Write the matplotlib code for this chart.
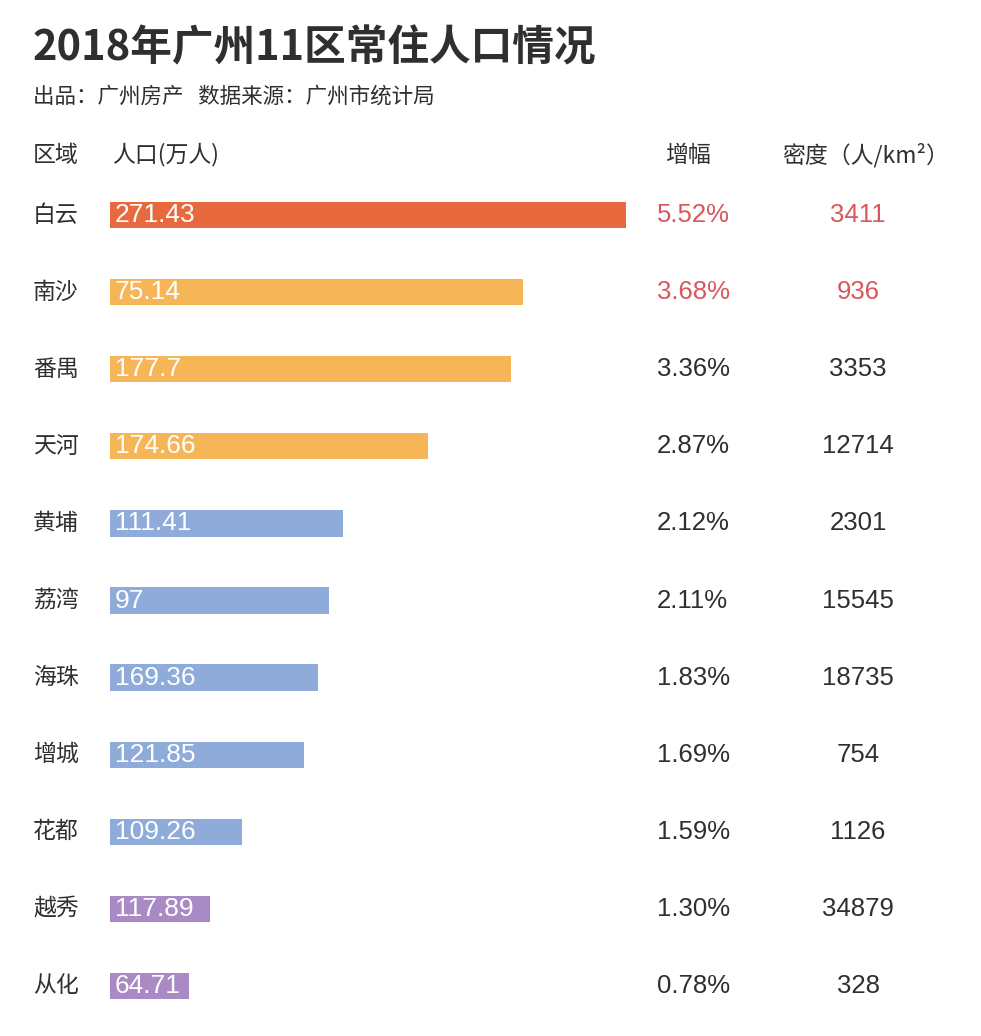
import matplotlib
matplotlib.use("Agg")
import matplotlib.pyplot as plt
import matplotlib.transforms as mtransforms


TITLE = "2018年广州11区常住人口情况"
SUBTITLE = "出品：广州房产   数据来源：广州市统计局"
HEADERS = ["区域", "人口(万人)", "增幅", "密度（人/km²）"]

districts = ["白云", "南沙", "番禺", "天河", "黄埔", "荔湾", "海珠", "增城", "花都", "越秀", "从化"]
population = ["271.43", "75.14", "177.7", "174.66", "111.41", "97", "169.36",
              "121.85", "109.26", "117.89", "64.71"]
growth = ["5.52%", "3.68%", "3.36%", "2.87%", "2.12%", "2.11%", "1.83%",
          "1.69%", "1.59%", "1.30%", "0.78%"]
density = ["3411", "936", "3353", "12714", "2301", "15545", "18735",
           "754", "1126", "34879", "328"]
# bar lengths as drawn in the picture (they do not follow population)
bar_length = [5.16, 4.13, 4.01, 3.18, 2.33, 2.19, 2.08, 1.94, 1.32, 1.00, 0.79]
bar_group = ["top", "high", "high", "high", "mid", "mid", "mid", "mid", "mid", "low", "low"]

GROUP_COLORS = {"top": "#E9693F", "high": "#F6B557", "mid": "#8EABDA", "low": "#A98AC4"}
HIGHLIGHT_ROWS = 2

CJK = ["Noto Sans CJK SC", "DejaVu Sans"]
NUM = ["Liberation Sans", "Noto Sans CJK SC"]
DARK = "#2f2f2f"
RED = "#D9575A"

W, H = 981, 1036


def main() -> None:
    fig = plt.figure(figsize=(W / 100, H / 100), dpi=100)
    fig.patch.set_facecolor("white")

    # bar area: rows from y=176 to y=1024 px, bars start at x=110 px
    top_px, bottom_px, left_px = 176.5, 1024.5, 110
    ax = fig.add_axes([left_px / W, 1 - bottom_px / H, 1 - left_px / W, (bottom_px - top_px) / H])
    ax.set_xlim(0, (W - left_px) / 100)
    ax.set_ylim(len(districts) - 0.5, -0.5)
    ax.axis("off")

    rows = list(range(len(districts)))
    ax.barh(rows, bar_length, height=0.34, left=0,
            color=[GROUP_COLORS[g] for g in bar_group], edgecolor="none")

    row_tf = mtransforms.blended_transform_factory(fig.transFigure, ax.transData)
    for i in rows:
        ax.text(0.05, i, population[i], color="white", fontsize=19, family=NUM,
                ha="left", va="center")
        fig.text(33 / W, i, districts[i], transform=row_tf, color=DARK, fontsize=16.5,
                 fontweight="medium", family=CJK, ha="left", va="center")
        c = RED if i < HIGHLIGHT_ROWS else DARK
        fig.text(657 / W, i, growth[i], transform=row_tf, color=c, fontsize=18.5,
                 family=NUM, ha="left", va="center")
        fig.text(858 / W, i, density[i], transform=row_tf, color=c, fontsize=18.5,
                 family=NUM, ha="center", va="center")

    # title block and column headers
    fig.text(33 / W, 1 - 48 / H, TITLE, color=DARK, fontsize=30, fontweight="bold",
             family=CJK, ha="left", va="center")
    fig.text(33 / W, 1 - 97 / H, SUBTITLE, color=DARK, fontsize=15.5,
             family=CJK, ha="left", va="center")
    header_x = [33, 112, 688, 866]
    header_ha = ["left", "left", "center", "center"]
    for hx, ha, label in zip(header_x, header_ha, HEADERS):
        fig.text(hx / W, 1 - 155 / H, label, color=DARK, fontsize=16.5,
                 fontweight="medium", family=CJK, ha=ha, va="center")

    fig.savefig("out.png", dpi=100, facecolor="white")


if __name__ == "__main__":
    main()
